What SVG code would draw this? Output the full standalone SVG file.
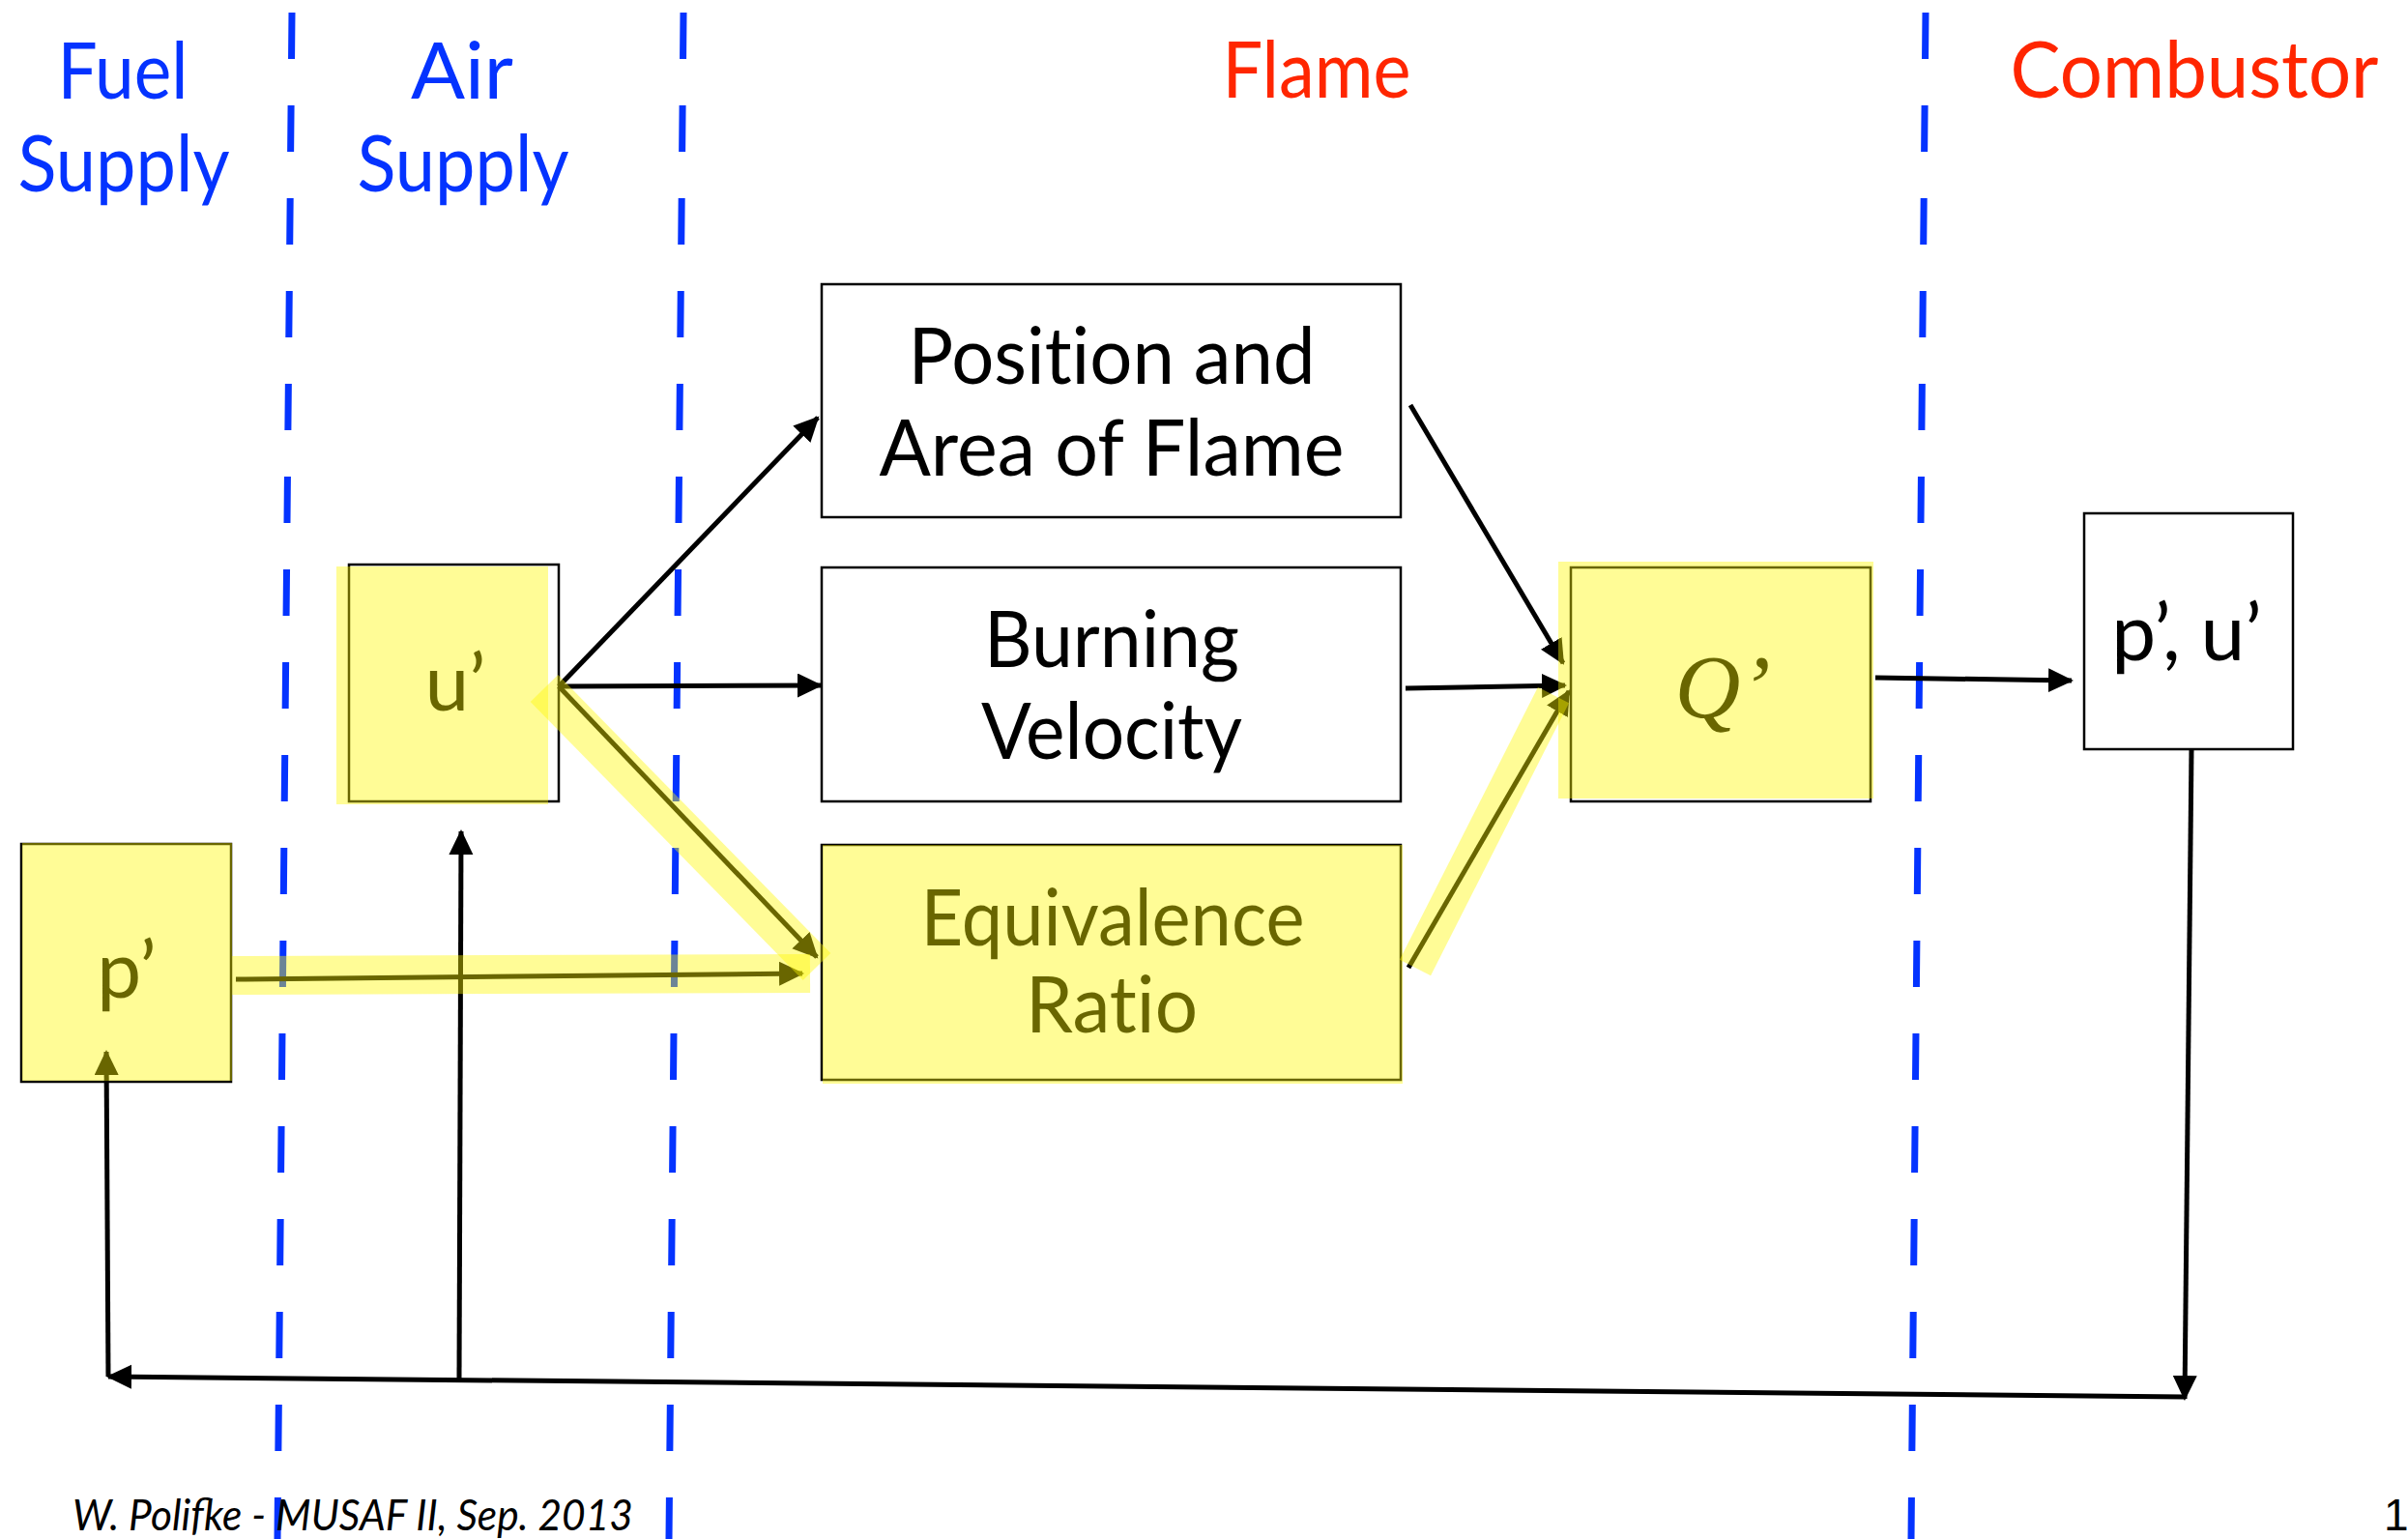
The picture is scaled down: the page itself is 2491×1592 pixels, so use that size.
<svg xmlns="http://www.w3.org/2000/svg" width="2491" height="1592" viewBox="0 0 2491 1592">
<defs>
<marker id="ah" markerUnits="userSpaceOnUse" markerWidth="28" markerHeight="26" viewBox="0 0 28 26" refX="24" refY="12.5" orient="auto">
<path d="M0,0 L26,12.5 L0,25 z" fill="#000"/>
</marker>
<style>
.sep{stroke:#0433FF;stroke-width:7;stroke-dasharray:48 48;fill:none}
.hdr{font-family:Lato,"Open Sans",sans-serif;font-size:82px;text-anchor:middle;font-variant-ligatures:none}
.blue{fill:#0433FF}
.red{fill:#FF2600}
.box{fill:#fff;stroke:#000;stroke-width:2.5}
.lbl{font-family:Lato,"Open Sans",sans-serif;font-size:82px;text-anchor:middle;fill:#000;font-variant-ligatures:none;font-feature-settings:"liga" 0,"dlig" 0}
.con{stroke:#000;stroke-width:5;fill:none;marker-end:url(#ah)}
.hl{fill:#FFF800;fill-opacity:0.41}
.hb{stroke:#FFF800;stroke-opacity:0.41;fill:none}
.foot{font-family:Lato,"Open Sans",sans-serif;font-style:italic;font-size:44px;fill:#000}
</style>
</defs>
<rect width="2491" height="1592" fill="#fff"/>

<g id="separators">
<line class="sep" x1="302" y1="13" x2="287" y2="1592"/>
<line class="sep" x1="707" y1="13" x2="692" y2="1592"/>
<line class="sep" x1="1992" y1="13" x2="1977" y2="1592"/>
</g>

<g id="headers">
<text class="hdr blue" x="127" y="102" textLength="135" lengthAdjust="spacingAndGlyphs">Fuel</text>
<text class="hdr blue" x="128" y="198" textLength="219" lengthAdjust="spacingAndGlyphs">Supply</text>
<text class="hdr blue" x="478" y="102" textLength="106" lengthAdjust="spacingAndGlyphs">Air</text>
<text class="hdr blue" x="479" y="198" textLength="219" lengthAdjust="spacingAndGlyphs">Supply</text>
<text class="hdr red" x="1362" y="101" textLength="195" lengthAdjust="spacingAndGlyphs">Flame</text>
<text class="hdr red" x="2270" y="101" textLength="381" lengthAdjust="spacingAndGlyphs">Combustor</text>
</g>

<g id="node-position">
<rect class="box" x="850" y="294" width="599" height="241"/>
<text class="lbl" x="1150" y="397" textLength="421" lengthAdjust="spacingAndGlyphs">Position and</text>
<text class="lbl" x="1150" y="492" textLength="481" lengthAdjust="spacingAndGlyphs">Area of Flame</text>
</g>
<g id="node-burning">
<rect class="box" x="850" y="587" width="599" height="242"/>
<text class="lbl" x="1150" y="690" textLength="264" lengthAdjust="spacingAndGlyphs">Burning</text>
<text class="lbl" x="1150" y="785" textLength="270" lengthAdjust="spacingAndGlyphs">Velocity</text>
</g>
<g id="node-equivalence">
<rect class="box" x="850" y="874" width="599" height="243"/>
<text class="lbl" x="1151" y="978" textLength="397" lengthAdjust="spacingAndGlyphs">Equivalence</text>
<text class="lbl" x="1150" y="1068" textLength="178" lengthAdjust="spacingAndGlyphs">Ratio</text>
</g>
<g id="node-u">
<rect class="box" x="361" y="584" width="217" height="245"/>
<text class="lbl" x="471" y="735">u’</text>
</g>
<g id="node-p">
<rect class="box" x="22" y="873" width="217" height="246"/>
<text class="lbl" x="131" y="1032">p’</text>
</g>
<g id="node-q">
<rect class="box" x="1625" y="587" width="310" height="242"/>
<text x="1782" y="742" text-anchor="middle" font-family="'Liberation Serif',serif" font-style="italic" font-size="94" fill="#000">Q’</text>
</g>
<g id="node-pu">
<rect class="box" x="2156" y="531" width="216" height="244"/>
<text class="lbl" x="2262" y="683" font-size="78">p’, u’</text>
</g>

<g id="connectors">
<line class="con" x1="578" y1="710" x2="846" y2="432"/>
<line class="con" x1="580" y1="710" x2="849" y2="709"/>
<line class="con" x1="578" y1="710" x2="845" y2="990"/>
<line class="con" x1="244" y1="1013" x2="830" y2="1007"/>
<line class="con" x1="1459" y1="419" x2="1617" y2="686"/>
<line class="con" x1="1454" y1="712" x2="1619" y2="709"/>
<line class="con" x1="1457" y1="1001" x2="1623" y2="715"/>
<line class="con" x1="1940" y1="701" x2="2143" y2="704"/>
<line class="con" x1="2267" y1="776" x2="2260" y2="1447"/>
<line class="con" x1="2260" y1="1445" x2="112" y2="1424"/>
<line class="con" x1="112" y1="1424" x2="110" y2="1088"/>
<line class="con" x1="475" y1="1426" x2="477" y2="860"/>
</g>

<g id="highlights">
<rect class="hl" x="348" y="586" width="219" height="246"/>
<rect class="hl" x="23" y="872" width="217" height="246"/>
<rect class="hl" x="851" y="874" width="600" height="247"/>
<rect class="hl" x="1612" y="581" width="326" height="245"/>
<line class="hb" stroke-width="40" x1="563" y1="712" x2="845" y2="1000"/>
<line class="hb" stroke-width="40" x1="240" y1="1009" x2="838" y2="1007"/>
<line class="hb" stroke-width="36" x1="1464" y1="1001" x2="1607" y2="719"/>
</g>

<g id="footer">
<text class="foot" x="75" y="1583" textLength="580" lengthAdjust="spacingAndGlyphs">W. Polifke - MUSAF II, Sep. 2013</text>
<text x="2466" y="1583" font-family="'Liberation Sans',sans-serif" font-size="46" fill="#000">1</text>
</g>
</svg>
